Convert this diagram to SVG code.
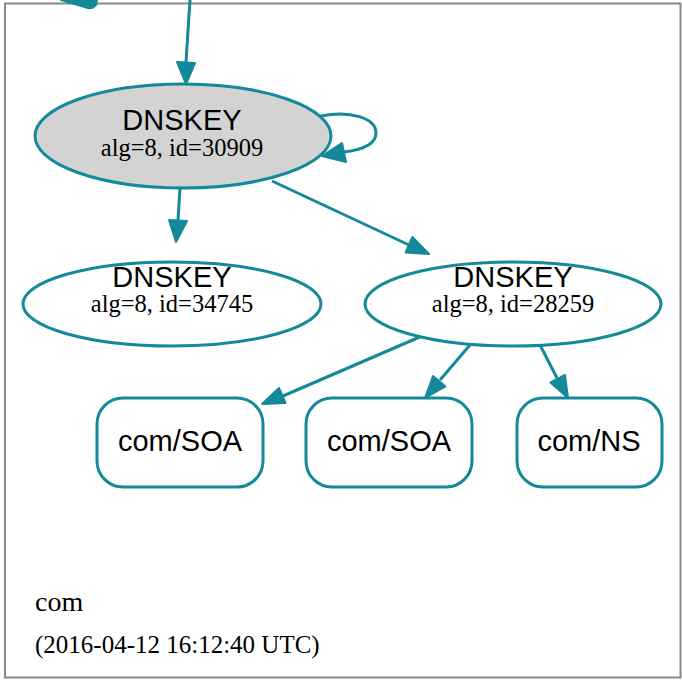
<svg xmlns="http://www.w3.org/2000/svg" width="682" height="681" viewBox="0 0 682 681">
<defs>
<style>
.n{stroke:#14899a;stroke-width:3;fill:#fff}
.e{stroke:#14899a;stroke-width:3;fill:none}
.h{fill:#14899a;stroke:#14899a;stroke-width:2;stroke-linejoin:round}
.t1{font-family:"Liberation Sans",Arial,sans-serif;font-size:29px;fill:#000;text-anchor:middle}
.t2{font-family:"Liberation Serif","Times New Roman",serif;font-size:24.5px;fill:#000;text-anchor:middle}
.t3{font-family:"Liberation Serif","Times New Roman",serif;fill:#000}
</style>
</defs>
<rect x="0" y="0" width="682" height="681" fill="#fff"/>
<rect x="5" y="3.5" width="675.5" height="674" fill="#fff" stroke="#888" stroke-width="2"/>
<g id="connectors">
<path class="h" d="M61,0 L97,0 L96,5 Q93,9 88,8 Z"/>
<path class="e" d="M190,0 L186,62"/>
<path class="h" d="M177,62 L195,63 L186,84 Z"/>
<path class="e" d="M321,116 C350,110 376,118 376,133 C376,145 360,150 344,152"/>
<path class="h" d="M342,143 L346,162 L322,156 Z"/>
<path class="e" d="M180,188 L178,220"/>
<path class="h" d="M169,220 L187,221 L176,242 Z"/>
<path class="e" d="M272,181 L409,245"/>
<path class="h" d="M405.6,252.5 L412.4,237 L429,254 Z"/>
<path class="e" d="M422,336 L283,396"/>
<path class="h" d="M279,388 L285.5,403 L262,404 Z"/>
<path class="e" d="M470,345 L440,380"/>
<path class="h" d="M433,376 L445.5,386.5 L425,398 Z"/>
<path class="e" d="M540,345 L557,378"/>
<path class="h" d="M550.5,382.5 L565,375 L568,398 Z"/>
</g>
<g id="dnskey30909">
<ellipse cx="183" cy="136" rx="148" ry="52" class="n" style="fill:#d3d3d3"/>
<text x="182" y="130" class="t1">DNSKEY</text>
<text x="182" y="156" class="t2">alg=8, id=30909</text>
</g>
<g id="dnskey34745">
<ellipse cx="172" cy="304" rx="149" ry="42" class="n"/>
<text x="172" y="287" class="t1">DNSKEY</text>
<text x="172" y="312" class="t2">alg=8, id=34745</text>
</g>
<g id="dnskey28259">
<ellipse cx="513" cy="304" rx="148" ry="42" class="n"/>
<text x="513" y="287" class="t1">DNSKEY</text>
<text x="513" y="312" class="t2">alg=8, id=28259</text>
</g>
<g id="soa1">
<rect x="97" y="398" width="166" height="89" rx="26" class="n"/>
<text x="180" y="451" class="t1">com/SOA</text>
</g>
<g id="soa2">
<rect x="306" y="398" width="166" height="89" rx="26" class="n"/>
<text x="389" y="451" class="t1">com/SOA</text>
</g>
<g id="ns">
<rect x="517" y="398" width="145" height="89" rx="26" class="n"/>
<text x="589" y="451" class="t1">com/NS</text>
</g>
<g id="label">
<text x="35" y="611" class="t3" font-size="28">com</text>
<text x="35" y="653" class="t3" font-size="25">(2016-04-12 16:12:40 UTC)</text>
</g>
</svg>
